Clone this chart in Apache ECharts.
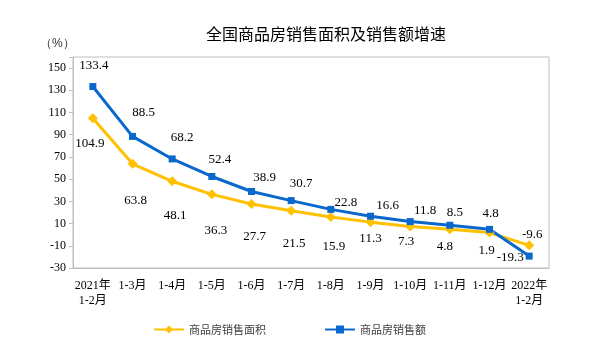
<!DOCTYPE html>
<html>
<head>
<meta charset="utf-8">
<script src="https://cdn.jsdelivr.net/npm/echarts@6/dist/echarts.min.js"></script>
<style>
  html, body { margin: 0; padding: 0; background: #fff; }
  #main { width: 592px; height: 353px; }
</style>
</head>
<body>
<div id="main"></div>
<script>
// 数据
const categories = ["2021年\n1-2月", "1-3月", "1-4月", "1-5月", "1-6月", "1-7月", "1-8月", "1-9月", "1-10月", "1-11月", "1-12月", "2022年\n1-2月"];
const areaGrowth = [104.9, 63.8, 48.1, 36.3, 27.7, 21.5, 15.9, 11.3, 7.3, 4.8, 1.9, -9.6];
const salesGrowth = [133.4, 88.5, 68.2, 52.4, 38.9, 30.7, 22.8, 16.6, 11.8, 8.5, 4.8, -19.3];

// 标签相对数据点的偏移
const areaLabelOffset = [[-3, 25], [3, 37], [3, 34], [4, 36], [3, 33], [3, 33], [3, 30], [0, 16], [-4, 15], [-5, 17], [-3, 18], [3, -11]];
const salesLabelOffset = [[1, -21], [11, -24], [10, -21], [8, -17], [13, -14], [10, -17], [15, -7], [17, -11], [15, -11], [5, -13], [1, -16], [-19, 1]];

const serif = '"Liberation Serif", "Times New Roman", "Noto Sans CJK SC", serif';
const yellow = "#FFC000";
const blue = "#0A68CC";

function withLabels(values, offsets) {
  return values.map((v, i) => ({
    value: v,
    label: { offset: offsets[i] }
  }));
}

const chart = echarts.init(document.getElementById("main"));
chart.setOption({
  animation: false,
  title: {
    text: "全国商品房销售面积及销售额增速",
    left: 201,
    top: 21,
    textStyle: { fontSize: 16, fontWeight: "normal", color: "#000", fontFamily: '"Noto Sans CJK SC", sans-serif' }
  },
  graphic: [{
    type: "text",
    left: 40,
    top: 38,
    style: { text: "（%）", fontSize: 12, fill: "#333", font: '12px "Noto Sans CJK SC", sans-serif' }
  }],
  legend: {
    left: 148,
    top: 319,
    itemWidth: 30,
    itemHeight: 10,
    itemGap: 58,
    textStyle: { fontSize: 11, color: "#404040", fontFamily: '"Noto Sans CJK SC", sans-serif' },
    data: ["商品房销售面积", "商品房销售额"]
  },
  grid: {
    left: 73,
    right: 43,
    top: 57,
    bottom: 85,
    show: true,
    borderColor: "#bfbfbf",
    borderWidth: 1
  },
  xAxis: {
    type: "category",
    data: categories,
    boundaryGap: true,
    axisLine: { onZero: false, lineStyle: { color: "#bfbfbf" } },
    axisTick: { inside: true, length: 4, lineStyle: { color: "#bfbfbf" } },
    axisLabel: { color: "#000", fontSize: 12, fontFamily: serif, margin: 10, interval: 0, lineHeight: 15 }
  },
  yAxis: {
    type: "value",
    min: -30,
    max: 160,
    interval: 20,
    splitLine: { show: false },
    axisLine: { show: true, lineStyle: { color: "#bfbfbf" } },
    axisTick: { show: true, length: 4, lineStyle: { color: "#bfbfbf" } },
    axisLabel: {
      color: "#000", fontSize: 12, fontFamily: serif, margin: 7,
      formatter: v => (v > 150 ? "" : String(v))
    }
  },
  series: [
    {
      name: "商品房销售面积",
      type: "line",
      data: withLabels(areaGrowth, areaLabelOffset),
      symbol: "diamond",
      symbolSize: 10,
      lineStyle: { width: 3, color: yellow },
      itemStyle: { color: yellow },
      label: { show: true, position: "inside", color: "#000", fontSize: 13, fontFamily: serif }
    },
    {
      name: "商品房销售额",
      type: "line",
      data: withLabels(salesGrowth, salesLabelOffset),
      symbol: "rect",
      symbolSize: 7,
      lineStyle: { width: 3, color: blue },
      itemStyle: { color: blue },
      label: { show: true, position: "inside", color: "#000", fontSize: 13, fontFamily: serif }
    }
  ]
});
</script>
</body>
</html>
